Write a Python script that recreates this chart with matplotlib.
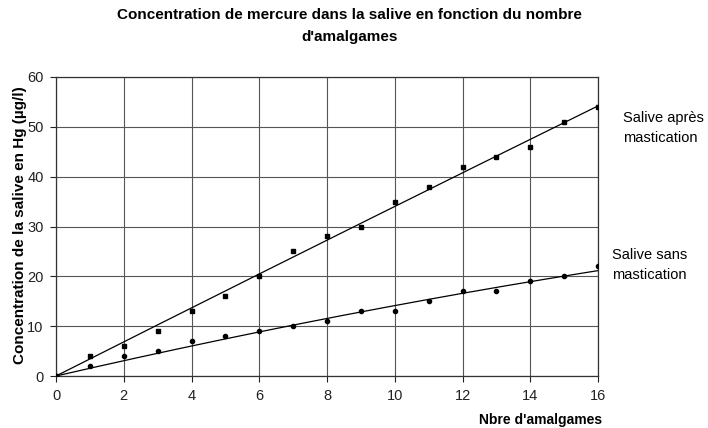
import numpy as np
import matplotlib.pyplot as plt

plt.rcParams.update({
    "font.family": "Liberation Sans",
    "font.size": 10,
})

n_amalgames = [0, 1, 2, 3, 4, 5, 6, 7, 8, 9, 10, 11, 12, 13, 14, 15, 16]
apres_mastication = [0, 4, 6, 9, 13, 16, 20, 25, 28, 30, 35, 38, 42, 44, 46, 51, 54]
sans_mastication = [0, 2, 4, 5, 7, 8, 9, 10, 11, 13, 13, 15, 17, 17, 19, 20, 22]

x = np.array(n_amalgames, dtype=float)
xs = np.linspace(0, 16, 200)

fig = plt.figure(figsize=(7.08, 4.28), dpi=100)
ax = fig.add_axes([56 / 708, 1 - 376 / 428, (598 - 56) / 708, (376 - 77) / 428])

# courbes de tendance : polynome d'ordre 2 passant par l'origine
A = np.column_stack([x, x ** 2])
for y in (apres_mastication, sans_mastication):
    coef, *_ = np.linalg.lstsq(A, np.array(y, dtype=float), rcond=None)
    ax.plot(xs, coef[0] * xs + coef[1] * xs ** 2, color="black", linewidth=0.9, zorder=3)

ax.plot(x, apres_mastication, "s", color="black", markersize=3.3, zorder=4)
ax.plot(x, sans_mastication, "o", color="black", markersize=3, zorder=4)

ax.set_xlim(0, 16)
ax.set_ylim(0, 60)
ax.set_xticks(range(0, 17, 2))
ax.set_yticks(range(0, 61, 10))
ax.grid(True, color="#555555", linewidth=0.8)
ax.set_axisbelow(True)
ax.tick_params(direction="out", length=4, width=0.8, labelsize=10.5, colors="#222222", pad=5)
for s in ax.spines.values():
    s.set_color("#333333")
    s.set_linewidth(0.9)

fig.text(0.494, 1 - 26 / 428, "Concentration de mercure dans la salive en fonction du nombre\nd'amalgames",
         ha="center", va="center", fontweight="bold", fontsize=11, linespacing=1.65)
fig.text(20 / 708, 1 - 225 / 428, "Concentration de la salive en Hg (µg/l)",
         rotation=90, ha="center", va="center", fontweight="bold", fontsize=11)
fig.text(602 / 708, 1 - 420 / 428, "Nbre d'amalgames", ha="right", va="center",
         fontweight="bold", fontsize=10)

fig.text(623 / 708, 1 - 128 / 428, "Salive après\nmastication", ha="left", va="center",
         multialignment="left", fontsize=10.5, linespacing=1.6)
fig.text(612 / 708, 1 - 265 / 428, "Salive sans\nmastication", ha="left", va="center",
         multialignment="left", fontsize=10.5, linespacing=1.6)

fig.savefig("out.png", dpi=100)
